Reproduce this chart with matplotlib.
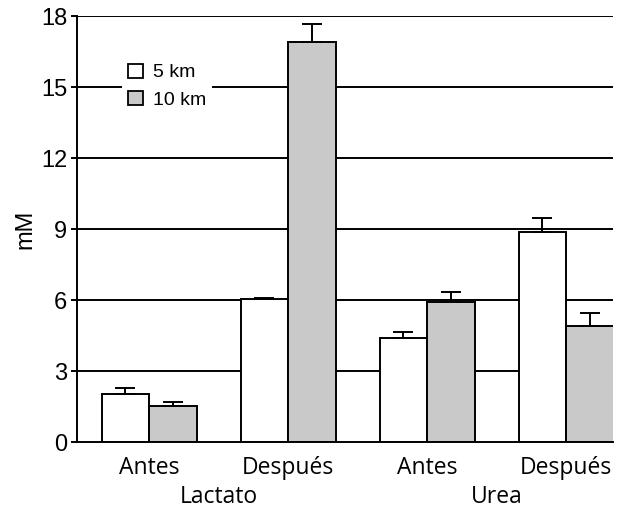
import matplotlib.pyplot as plt
import matplotlib.transforms as mtransforms
from matplotlib.patches import Patch

# Concentrations (mM) before/after the run, mean and upper error
conditions = ["Antes", "Después", "Antes", "Después"]
groups = ["Lactato", "Urea"]
km5_mean = [2.03, 6.03, 4.41, 8.89]
km5_err = [0.24, 0.07, 0.22, 0.56]
km10_mean = [1.52, 16.91, 5.93, 4.90]
km10_err = [0.16, 0.75, 0.41, 0.54]
yticks = [0, 3, 6, 9, 12, 15, 18]

gray = "#c9c9c9"
width = 0.342
pos = list(range(len(conditions)))
label_font = ["Open Sans", "DejaVu Sans"]

fig = plt.figure(figsize=(6.17, 5.13), dpi=100)
ax = fig.add_axes([0.1248, 0.1384, 0.8692, 0.8304])

# horizontal guide lines sit behind the bars
for y in yticks[1:]:
    ax.axhline(y, color="black", lw=1.4, zorder=0)

err_kw = dict(ecolor="black", elinewidth=1.4, capsize=7, capthick=1.4)
ax.bar([p - width / 2 for p in pos], km5_mean, width, color="white",
       edgecolor="black", lw=1.4, zorder=2,
       yerr=[[0] * 4, km5_err], error_kw=err_kw)
ax.bar([p + width / 2 for p in pos], km10_mean, width, color=gray,
       edgecolor="black", lw=1.4, zorder=2,
       yerr=[[0] * 4, km10_err], error_kw=err_kw)

ax.set_xlim(-0.52, 3.34)
ax.set_ylim(0, 18)
ax.set_yticks(yticks)
ax.set_yticklabels([str(t) for t in yticks], fontsize=17,
                   family="Liberation Sans")
ax.set_xticks(pos)
ax.set_xticklabels(conditions, fontsize=16.5, family=label_font)
ax.tick_params(axis="x", length=0, pad=10)
ax.tick_params(axis="y", length=4, width=1.4, pad=3)

for side in ["top", "right"]:
    ax.spines[side].set_visible(False)
ax.spines["left"].set_linewidth(1.4)
ax.spines["bottom"].set_linewidth(1.4)

ax.set_ylabel("mM", fontsize=17, family="Liberation Sans", labelpad=3)

# group names under the condition labels
trans = mtransforms.blended_transform_factory(ax.transData, ax.transAxes)
for x, name in zip([0.5, 2.5], groups):
    ax.text(x, -0.128, name, transform=trans, ha="center", va="center",
            fontsize=16.5, family=label_font)

handles = [Patch(facecolor="white", edgecolor="black", lw=1.3),
           Patch(facecolor=gray, edgecolor="black", lw=1.3)]
leg = ax.legend(handles, ["5 km", "10 km"], loc="upper left",
                bbox_to_anchor=(0.066, 0.925), frameon=True, fancybox=False,
                framealpha=1, edgecolor="none", facecolor="white",
                handlelength=0.75, handleheight=0.75, handletextpad=0.55,
                labelspacing=0.5, borderpad=0.3,
                prop={"family": "Liberation Sans", "size": 14})
leg.set_zorder(5)

fig.savefig("out.png", dpi=100)
